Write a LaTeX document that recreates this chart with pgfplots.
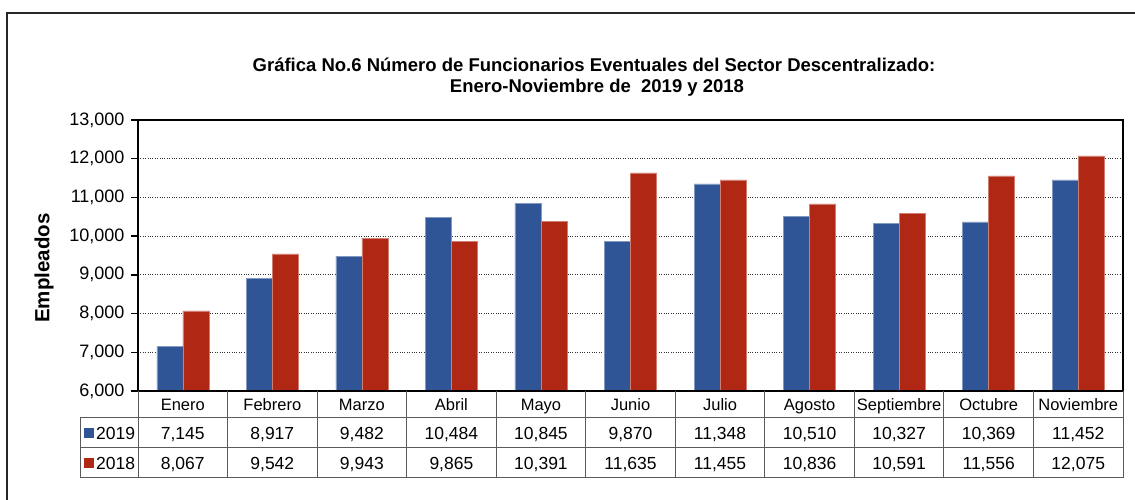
\documentclass[border=0pt]{standalone}
\usepackage{pgfplots}
\pgfplotsset{compat=1.18}
\usepackage{fontspec}
\setmainfont{Liberation Sans}
\definecolor{cblue}{RGB}{47,85,151}
\definecolor{cred}{RGB}{176,40,20}
\definecolor{tgray}{RGB}{90,90,90}
\begin{document}
\begin{tikzpicture}[x=1pt,y=1pt]
\useasboundingbox (0,0) rectangle (1135,500);
% outer frame (left and top visible)
\draw[line width=1.2pt, black!85] (7,-5) -- (7,487) -- (1140,487);
% title
\node[font=\fontsize{18.5}{21}\selectfont\bfseries] at (594,435) {Gráfica No.6 Número de Funcionarios Eventuales del Sector Descentralizado:};
\node[font=\fontsize{18.5}{21}\selectfont\bfseries] at (597,412) {Enero-Noviembre de\ \ 2019 y 2018};
% y label
\node[font=\fontsize{20.5}{23}\selectfont\bfseries, rotate=90] at (44,232) {Empleados};
\begin{axis}[
  at={(138pt,109pt)}, anchor=south west,
  width=985pt, height=271pt, scale only axis,
  ybar=0pt, bar width=26pt,
  xmin=-0.5, xmax=10.5,
  ymin=6000, ymax=13000,
  ytick={6000,7000,...,13000},
  scaled y ticks=false,
  xtick=\empty,
  ymajorgrids, grid style={dotted, line width=0.9pt, black!80},
  axis line style={line width=2.4pt, black},
  ytick style={line width=1.5pt, black},
  tick align=outside, major tick length=7pt,
  ytick pos=left,
  yticklabel style={font=\fontsize{18}{20}\selectfont, xshift=-3pt, /pgf/number format/fixed, /pgf/number format/1000 sep={,}, /pgf/number format/assume math mode=true},
  clip=false,
]
\addplot[fill=cblue, draw=cblue!60!white, line width=0.5pt] coordinates {
(0,7145) (1,8917) (2,9482) (3,10484) (4,10845) (5,9870) (6,11348) (7,10510) (8,10327) (9,10369) (10,11452)};
\addplot[fill=cred, draw=cred!60!white, line width=0.5pt] coordinates {
(0,8067) (1,9542) (2,9943) (3,9865) (4,10391) (5,11635) (6,11455) (7,10836) (8,10591) (9,11556) (10,12075)};
\end{axis}
% re-draw plot frame thick
\draw[line width=2.4pt, black] (138,109) rectangle (1123,380);
% data table
\pgfmathsetmacro{\cw}{985/11}
\foreach \k in {1,...,11} {
  \draw[tgray, line width=1pt] ({138+\k*\cw},109) -- ({138+\k*\cw},22);
}
\draw[tgray, line width=1pt] (138,109) -- (138,22);
\draw[tgray, line width=1pt] (80,82) -- (1123,82);
\draw[tgray, line width=1pt] (80,52) -- (1123,52);
\draw[tgray, line width=1pt] (80,22) -- (1123,22);
\draw[tgray, line width=1pt] (80,82) -- (80,22);
\foreach \n [count=\i from 0] in {Enero,Febrero,Marzo,Abril,Mayo,Junio,Julio,Agosto,Septiembre,Octubre,Noviembre} {
  \node[font=\fontsize{16.5}{19}\selectfont, anchor=base] at ({138+(\i+0.5)*\cw},89) {\n};
}
\foreach \v [count=\i from 0] in {7{,}145,8{,}917,9{,}482,10{,}484,10{,}845,9{,}870,11{,}348,10{,}510,10{,}327,10{,}369,11{,}452} {
  \node[font=\fontsize{17.5}{19}\selectfont, anchor=base] at ({138+(\i+0.5)*\cw},60) {\v};
}
\foreach \v [count=\i from 0] in {8{,}067,9{,}542,9{,}943,9{,}865,10{,}391,11{,}635,11{,}455,10{,}836,10{,}591,11{,}556,12{,}075} {
  \node[font=\fontsize{17.5}{19}\selectfont, anchor=base] at ({138+(\i+0.5)*\cw},30) {\v};
}
\fill[cblue] (84,62) rectangle (94,72);
\fill[cred] (84,32) rectangle (94,42);
\node[font=\fontsize{17.5}{19}\selectfont, anchor=base west, inner sep=2pt] at (94,60) {2019};
\node[font=\fontsize{17.5}{19}\selectfont, anchor=base west, inner sep=2pt] at (94,30) {2018};
\end{tikzpicture}
\end{document}
